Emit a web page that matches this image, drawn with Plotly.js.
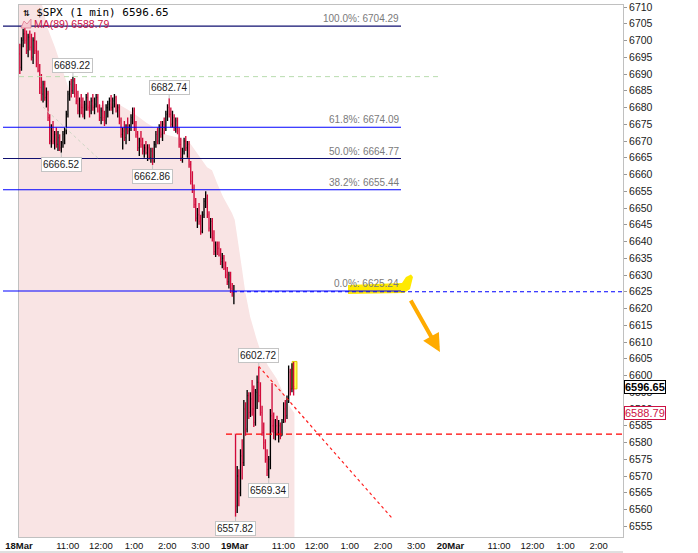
<!DOCTYPE html>
<html><head><meta charset="utf-8">
<script src="https://cdn.plot.ly/plotly-3.0.1.min.js"></script>
<style>html,body{margin:0;padding:0;background:#fff}#chart{width:698px;height:553px}</style>
</head><body><div id="chart"></div>
<script>
// ---- session layout (minutes since 18Mar 09:30, regular session = 390 min) ----
const sessionStart = [0, 390];        // 18Mar, 19Mar
const barsPerSession = [130, 36];     // 3-minute bars drawn per session
const barMinutes = 3;

// ---- $SPX OHLC ----
const open = [
 6696,6692,6700,6702,6700,6697,6701,6698,6695,6700,
 6697,6693,6691,6686,6684,6687,6683,6684,6677,6670,
 6673,6670,6672,6669,6671,6668,6669.5,6672,6673,6678,
 6684,6687,6685,6688,6684,6682,6679,6682,6680,6678,
 6681,6683,6680,6679,6682,6680,6681,6683,6679,6677,
 6679,6677,6676,6680,6681,6682,6680,6682,6683,6679,
 6680,6676,6672,6673,6671,6674,6673,6674,6677,6679,
 6674,6672,6668,6670,6669,6667,6668,6666.5,6668,6665,
 6667,6664,6669,6672,6670,6674,6672,6675,6674,6678,
 6680,6678,6675,6677,6674,6676,6673,6669,6665,6667,
 6670,6668,6669,6663,6658,6656,6651,6647,6648,6646,
 6643,6648,6652,6653,6648,6644,6646,6641,6637,6639,
 6638,6636,6634,6635,6632,6630,6628,6630,6626,6625,
 6582.5,6561,6570,6565,6576,6574,6590,6584,6594,6589,
 6593,6590,6586,6595,6598,6594,6589,6583,6580,6575,
 6572,6575,6588,6585,6583,6585,6583,6585,6582,6586,
 6590,6588,6593,6601,6596,6602
];
const high = [
 6699,6701,6703.5,6704.29,6703,6702,6703,6702,6701,6702.5,
 6700,6697,6693,6690,6688,6688,6686,6685,6678,6675,
 6676,6673,6674,6673,6672,6670,6673,6674,6679,6685,
 6688,6688.5,6689.22,6688.8,6687,6685,6683,6684,6683,6682,
 6684,6684.5,6682,6683,6684,6683,6684,6684,6681,6680,
 6682,6679,6681,6682,6683,6683.7,6683,6684,6683.5,6681,
 6681,6677,6674,6676,6675,6677,6675,6678,6680,6680,
 6676,6673,6671,6673,6671,6669,6670,6669,6669,6668,
 6668,6670,6673,6674,6675,6676,6676,6677,6679,6681,
 6682.74,6680,6679,6678,6677,6677,6674,6671,6668,6671,
 6671.5,6670,6670,6664,6661,6657,6653,6650,6651.5,6648,
 6649,6653,6655,6654,6649,6647,6647,6643.4,6640,6640,
 6640,6638,6636.6,6636,6634,6632.4,6631,6631,6627.6,6627,
 6582.5,6573,6572,6578,6581,6592.7,6592,6595.7,6595,6595,
 6598.7,6597,6596,6600,6602.72,6598,6591,6586,6581,6578,
 6576,6590,6597.8,6589,6587,6588,6586.7,6586,6587,6592,
 6592.7,6594,6603,6602,6603.7,6604
];
const low = [
 6690,6691,6698,6699,6696,6695,6697,6694,6693,6696,
 6692,6690.5,6684,6682,6681.5,6682,6680,6676,6669,6668,
 6669,6667.5,6668,6667,6667,6666.52,6668,6669,6672,6677,
 6682,6683,6684,6683,6681,6678,6677,6678,6677,6676.5,
 6679,6679,6677,6678,6679,6678,6680,6678.5,6676,6675,
 6676,6674.5,6675,6677,6679,6679,6678,6680,6678.5,6677,
 6675,6671,6667.5,6670,6669,6672,6670,6673,6675,6673,
 6671,6667,6665.5,6668,6666,6665,6666,6664,6664.5,6663.5,
 6662.86,6663.5,6668,6669,6669,6671,6670,6672,6673,6676,
 6677,6674,6674,6673,6672.5,6672,6668,6664,6663.5,6666,
 6667,6665,6662,6657,6654.5,6650,6646,6644,6645,6642,
 6642.5,6647,6650,6647,6643,6641,6640,6636,6635.4,6636,
 6635.5,6633,6632,6631.5,6629,6627,6626,6624.6,6623.5,6621.3,
 6557.82,6559,6561,6564,6569,6573,6582,6583,6587,6587.6,
 6588,6584.6,6585,6590,6592,6588,6582,6578,6574,6570,
 6569.34,6572,6583,6581,6580.7,6582,6580,6581,6582,6585.8,
 6586,6587,6591.8,6594,6595,6594
];
const close = [
 6692,6700,6702,6700,6697,6701,6698,6695,6700,6697,
 6693,6691,6686,6684,6687,6683,6684,6677,6670,6673,
 6670,6672,6669,6671,6668,6669.5,6672,6673,6678,6684,
 6687,6685,6688,6684,6682,6679,6682,6680,6678,6681,
 6683,6680,6679,6682,6680,6681,6683,6679,6677,6679,
 6677,6676,6680,6681,6682,6680,6682,6683,6679,6680,
 6676,6672,6673,6671,6674,6673,6674,6677,6679,6674,
 6672,6668,6670,6669,6667,6668,6666.5,6668,6665,6667,
 6664,6669,6672,6670,6674,6672,6675,6674,6678,6680,
 6678,6675,6677,6674,6676,6673,6669,6665,6667,6670,
 6668,6669,6663,6658,6656,6651,6647,6648,6646,6643,
 6648,6652,6653,6648,6644,6646,6641,6637,6639,6638,
 6636,6634,6635,6632,6630,6628,6630,6626,6625,6625.24,
 6561,6570,6565,6576,6574,6590,6584,6594,6589,6593,
 6590,6586,6595,6598,6594,6589,6583,6580,6575,6572,
 6575,6588,6585,6583,6585,6583,6585,6582,6586,6590,
 6588,6593,6601,6596,6602,6596.65
];

// ---- MA(89) (minute index, value) ----
const maMinute = [0,42,51,65,80,92,105,125,146,165,177,197,206,231,268,291,309,340,349,358,369,385,390,395,403,409,418,430,436,450,466,480,490,498];
const maValue  = [6714,6710.5,6704,6698,6690.6,6684.6,6681.3,6680.8,6680.7,6681.2,6681.3,6679.3,6678.4,6675.4,6671.8,6670.9,6669.4,6662.2,6661.3,6657.5,6653.3,6648.5,6646.5,6641,6632,6625,6617.5,6610.6,6607.6,6603,6599,6594,6590.6,6588.79];

// ---- Fibonacci retracement ----
const fibPct    = ['100.0%','61.8%','50.0%','38.2%','0.0%'];
const fibValue  = [6704.29, 6674.09, 6664.77, 6655.44, 6625.24];
const fibColor  = ['#101070','#0000ff','#101070','#0000ff','#0000ff'];

// ---- callout labels ----
const calloutValue = [6689.22, 6682.74, 6666.52, 6662.86, 6602.72, 6569.34, 6557.82];
const calloutSide  = ['up','up','down','down','up','down','down'];

// ---- axis ticks ----
const tickMinute = [0,88,148,208,268,328,390,478,538,598,658,718,780,868,928,988,1048];
const tickText = ['<b>18Mar</b>','11:00','12:00','1:00','2:00','3:00','<b>19Mar</b>','11:00','12:00','1:00','2:00','3:00','<b>20Mar</b>','11:00','12:00','1:00','2:00'];

const lastPrice = 6596.65, maLast = 6588.79;
const hLine1 = 6582.5, hLine2 = 6625.0, greenLevel = 6689.22;

// bar positions (mid-minute of each 3-minute bar)
const barX = [];
sessionStart.forEach((s, d) => { for (let i = 0; i < barsPerSession[d]; i++) barX.push(s + barMinutes * i + barMinutes / 2); });

function xAtHigh(v){ const i = high.indexOf(v); return barX[i]; }
function xAtLow(v){ const i = low.indexOf(v); return barX[i]; }

const RED = '#d10a3a';
const traces = [
  { type:'ohlc', x: barX, open, high, low, close, tickwidth:0.45,
    increasing:{line:{color:'#000000', width:1.35}}, decreasing:{line:{color:RED, width:1.35}}, hoverinfo:'skip' }
];

const px2paperX = p => (p - 19) / 604;
const px2paperY = p => (537 - p) / 532;
const px2price  = p => 6710 - (p - 7) / 3.35;

const shapes = [];
// MA(89) area (below the bars)
const yFloor = 6540;
let maPath = 'M' + maMinute[0] + ',' + yFloor;
maMinute.forEach((m, i) => { maPath += ' L' + m + ',' + maValue[i]; });
maPath += ' L' + maMinute[maMinute.length - 1] + ',' + yFloor + ' Z';
shapes.push({type:'path', xref:'x', yref:'y', layer:'below', path: maPath, fillcolor:'#f9e4e4', line:{width:0}});
// yellow highlighter behind 0% label
const hl = [[348,285],[402,283],[406,277],[411,274.5],[413,277],[410,289],[404,293],[348,294]];
shapes.push({type:'path', xref:'paper', yref:'y', layer:'above',
  path: 'M' + hl.map(p => px2paperX(p[0]).toFixed(4) + ',' + px2price(p[1]).toFixed(2)).join(' L') + ' Z',
  fillcolor:'#ffe900', line:{width:0}});
// last-bar highlight
const li = barX.length - 1;
shapes.push({type:'rect', xref:'x', yref:'y', layer:'below', x0: barX[li]-2.5, x1: barX[li]+6, y0: 6596, y1: high[li]+0.2,
  fillcolor:'#ffff55', line:{color:'#e0c800', width:1}});
// fib lines
fibValue.forEach((v, i) => shapes.push({type:'line', xref:'paper', yref:'y', x0: px2paperX(3), x1: px2paperX(401), y0: v, y1: v, line:{color: fibColor[i], width:1.1}, layer:'above'}));
// green dashed
shapes.push({type:'line', xref:'paper', yref:'y', x0: 0, x1: px2paperX(438), y0: greenLevel, y1: greenLevel, line:{color:'#b9dcae', width:1, dash:'5px,4px'}, layer:'above'});
// faint diagonal
shapes.push({type:'line', xref:'paper', yref:'y', x0: px2paperX(43), x1: px2paperX(100), y0: px2price(107), y1: px2price(160), line:{color:'#cdd6c4', width:1, dash:'3px,3px'}, layer:'above'});
// blue dashed at 6625
shapes.push({type:'line', xref:'paper', yref:'y', x0: px2paperX(233), x1: 1, y0: hLine2, y1: hLine2, line:{color:'#0000ff', width:1.1, dash:'4px,3px'}, layer:'above'});
// red dashed horizontal
shapes.push({type:'line', xref:'paper', yref:'y', x0: px2paperX(226), x1: 1, y0: hLine1, y1: hLine1, line:{color:'#ff0000', width:1.3, dash:'6px,4px'}, layer:'above'});
// red dotted diagonal from swing high
shapes.push({type:'line', xref:'x', yref:'y', x0: xAtHigh(6602.72), x1: 674, y0: 6602.72, y1: 6557.5, line:{color:'#ff2020', width:1.2, dash:'3px,3px'}, layer:'above'});
// bottom strip line
shapes.push({type:'line', xref:'paper', yref:'paper', x0: px2paperX(0), x1: 1, y0: px2paperY(552), y1: px2paperY(552), line:{color:'#c0c0c0', width:1}});
// legend MA icon
const icon = [[21,28],[24,21],[27,24],[31,19],[31,28]];
shapes.push({type:'path', xref:'paper', yref:'paper',
  path: 'M' + icon.map(p => px2paperX(p[0]).toFixed(5) + ',' + px2paperY(p[1]).toFixed(5)).join(' L') + ' Z',
  fillcolor:'#f6c9d1', line:{color:'#e07a90', width:0.8}});

const F = 'Liberation Sans, Arial, sans-serif';
const annotations = [];
// legend
annotations.push({xref:'paper', yref:'paper', x: px2paperX(21), y: px2paperY(12), xanchor:'left', yanchor:'middle', showarrow:false,
  text:'⇅ $SPX (1 min) ' + lastPrice.toFixed(2), font:{family:'DejaVu Sans Mono, monospace', size:11, color:'#000'}});
annotations.push({xref:'paper', yref:'paper', x: px2paperX(32), y: px2paperY(24), xanchor:'left', yanchor:'middle', showarrow:false,
  text:'MA(89) ' + maLast.toFixed(2), font:{family:F, size:10.5, color:'#cc1144'}});
// fib labels
fibValue.forEach((v, i) => annotations.push({xref:'paper', yref:'y', x: px2paperX(401), y: v, xanchor:'right', yanchor:'bottom', yshift:0,
  showarrow:false, text: fibPct[i] + ': ' + v.toFixed(2), font:{family:F, size:10, color:'#7a7a7a'}}));
// callouts
calloutValue.forEach((v, i) => {
  const up = calloutSide[i] === 'up';
  const x = up ? xAtHigh(v) : xAtLow(v);
  annotations.push({xref:'x', yref:'y', x, y: v, ax: 0, ay: up ? -11 : 12, showarrow:true, arrowhead:0, arrowwidth:1, arrowcolor:'#c4c4c4', standoff:0,
    text: v.toFixed(2), font:{family:F, size:10, color:'#1a1a1a'}, bgcolor:'#ffffff', bordercolor:'#c4c4c4', borderwidth:1, borderpad:1});
});
// right axis value boxes
annotations.push({xref:'paper', yref:'y', x:1, y: lastPrice, xanchor:'left', yanchor:'middle', xshift:1, showarrow:false,
  text:'<b>' + lastPrice.toFixed(2) + '</b>', font:{family:F, size:11, color:'#000'}, bgcolor:'#fff', bordercolor:'#000', borderwidth:1, borderpad:0});
annotations.push({xref:'paper', yref:'y', x:1, y: maLast, xanchor:'left', yanchor:'middle', xshift:1, showarrow:false,
  text: maLast.toFixed(2), font:{family:F, size:11, color:'#cc1144'}, bgcolor:'#fff', bordercolor:'#cc1144', borderwidth:1, borderpad:0});
// orange arrow
annotations.push({xref:'x', yref:'y', x: 761, y: 6607, ax: -30, ay: -53, showarrow:true, text:'', arrowhead:2, arrowsize:0.9, arrowwidth:4, arrowcolor:'#ffab00', standoff:0});

const layout = {
  width:698, height:553, margin:{l:19, r:75, t:5, b:16, pad:0},
  paper_bgcolor:'#fff', plot_bgcolor:'#fff', showlegend:false,
  font:{family:F, size:10, color:'#222'},
  xaxis:{range:[0,1092], tickmode:'array', tickvals: tickMinute, ticktext: tickText, showgrid:false, zeroline:false,
    showline:true, mirror:true, linecolor:'#c0c0c0', linewidth:1, ticks:'', tickfont:{family:F, size:9.5, color:'#111'},
    rangeslider:{visible:false}, fixedrange:true},
  yaxis:{side:'right', range:[6551.8, 6710.6], tick0:6555, dtick:5, showgrid:false, zeroline:false, showline:true, mirror:true,
    linecolor:'#c0c0c0', linewidth:1, ticks:'outside', ticklen:3, tickcolor:'#999', tickfont:{family:F, size:10.5, color:'#222'}, fixedrange:true},
  shapes, annotations
};
Plotly.newPlot('chart', traces, layout, {displayModeBar:false, staticPlot:true});
</script></body></html>
